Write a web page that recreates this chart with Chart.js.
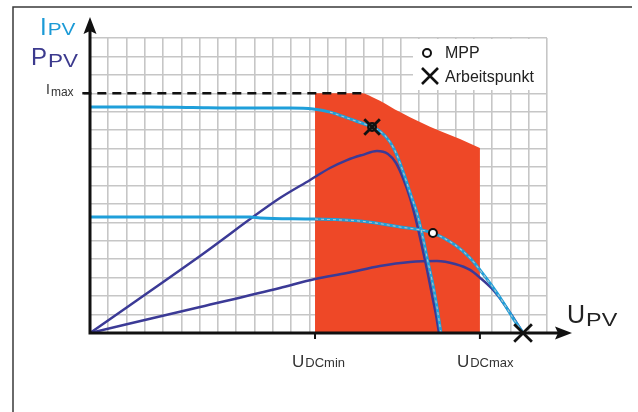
<!DOCTYPE html>
<html>
<head>
<meta charset="utf-8">
<script src="https://cdn.jsdelivr.net/npm/chart.js@4.4.0/dist/chart.umd.min.js"></script>
<style>
  html, body { margin: 0; padding: 0; background: #fff; }
  canvas { display: block; }
</style>
</head>
<body>
<canvas id="pv" width="638" height="412"></canvas>
<script>
// Axis units: one grid cell per unit (voltage on x, current / power on y)
const U_MAX = 25;
const Y_MAX = 16;
const I_MAX = 13;          // inverter current limit
const U_DC_MIN = 12.31;    // lower edge of the MPP tracking window
const U_DC_MAX = 21.33;    // upper edge of the MPP tracking window

// I-V curve, high irradiance
const ivHigh = [
  {x: 0, y: 12.26}, {x: 3.28, y: 12.26}, {x: 5.63, y: 12.23}, {x: 8.75, y: 12.2},
  {x: 10.94, y: 12.2}, {x: 12.2, y: 12.15}, {x: 13.13, y: 11.98}, {x: 14.22, y: 11.61},
  {x: 15.43, y: 11.17}, {x: 15.86, y: 10.95}, {x: 16.41, y: 10.36}, {x: 16.79, y: 9.65},
  {x: 17.23, y: 8.46}, {x: 17.61, y: 7.32}, {x: 17.89, y: 6.51}, {x: 18.22, y: 5.15},
  {x: 18.49, y: 3.85}, {x: 18.71, y: 2.87}, {x: 18.98, y: 1.41}, {x: 19.2, y: 0}
];
// P-V curve, high irradiance
const pvHigh = [
  {x: 0, y: 0}, {x: 6.02, y: 4.18}, {x: 10.39, y: 7.32}, {x: 12.04, y: 8.3},
  {x: 13.13, y: 8.95}, {x: 14.06, y: 9.38}, {x: 14.88, y: 9.65}, {x: 15.7, y: 9.87},
  {x: 16.3, y: 9.71}, {x: 16.74, y: 9.22}, {x: 17.12, y: 8.41}, {x: 17.51, y: 7.32},
  {x: 17.83, y: 6.13}, {x: 18.11, y: 4.93}, {x: 18.44, y: 3.42}, {x: 18.71, y: 2.06},
  {x: 18.93, y: 0.98}, {x: 19.09, y: 0}
];
// I-V curve, low irradiance
const ivLow = [
  {x: 0, y: 6.29}, {x: 8.75, y: 6.29}, {x: 9.3, y: 6.24}, {x: 12.31, y: 6.18},
  {x: 14.77, y: 6.07}, {x: 16.96, y: 5.75}, {x: 18.76, y: 5.42}, {x: 19.97, y: 4.77},
  {x: 20.79, y: 4.07}, {x: 21.33, y: 3.42}, {x: 21.99, y: 2.55}, {x: 22.59, y: 1.68},
  {x: 23.14, y: 0.81}, {x: 23.69, y: 0}
];
// P-V curve, low irradiance
const pvLow = [
  {x: 0, y: 0}, {x: 6.02, y: 1.41}, {x: 10.39, y: 2.44}, {x: 12.31, y: 2.93},
  {x: 14.06, y: 3.25}, {x: 15.86, y: 3.63}, {x: 17.51, y: 3.85}, {x: 18.98, y: 3.9},
  {x: 19.97, y: 3.74}, {x: 20.79, y: 3.42}, {x: 21.33, y: 3.0}, {x: 21.99, y: 2.4},
  {x: 22.59, y: 1.66}, {x: 23.14, y: 0.86}, {x: 23.69, y: 0}
];
// Upper boundary of the permitted operating window
const windowTop = [
  {x: 12.31, y: 13}, {x: 14.88, y: 13}, {x: 15.4, y: 12.82}, {x: 15.86, y: 12.6},
  {x: 16.96, y: 11.98}, {x: 18.05, y: 11.44}, {x: 19.15, y: 10.95}, {x: 20.24, y: 10.52},
  {x: 21.33, y: 10.03}
];
// Current limit line
const imaxLine = [{x: -0.42, y: I_MAX}, {x: 14.88, y: I_MAX}];
// Maximum power points and operating points
const mppPoints = [{x: 15.43, y: 11.17}, {x: 18.76, y: 5.42}];
const workPoints = [{x: 15.43, y: 11.17}, {x: 23.69, y: 0}];
// Voltage marks on the x axis
const xMarks = [
  {value: U_DC_MIN, main: 'U', sub: 'DCmin'},
  {value: U_DC_MAX, main: 'U', sub: 'DCmax'}
];

const FONT = '"Liberation Sans", Arial, sans-serif';
const LIGHT_BLUE = '#1f9fda';
const DARK_BLUE = '#3b3a96';

function subText(ctx, x, base, big, bigPx, small, smallPx, color, sx, dy) {
  ctx.save();
  ctx.fillStyle = color;
  ctx.textAlign = 'left';
  ctx.textBaseline = 'alphabetic';
  ctx.font = bigPx + 'px ' + FONT;
  ctx.fillText(big, x, base);
  const w = ctx.measureText(big).width;
  ctx.font = smallPx + 'px ' + FONT;
  ctx.translate(x + w + 1, base + (dy || 0));
  ctx.scale(sx || 1, 1);
  ctx.fillText(small, 0, 0);
  ctx.restore();
}

function drawAxes(chart) {
  const ctx = chart.ctx;
  const xs = chart.scales.x, ys = chart.scales.y;
  const x0 = xs.getPixelForValue(0), y0 = ys.getPixelForValue(0);
  ctx.save();
  ctx.strokeStyle = '#111';
  ctx.fillStyle = '#111';
  ctx.lineWidth = 3;
  ctx.beginPath();
  ctx.moveTo(x0, y0 + 1.5); ctx.lineTo(x0, 30);
  ctx.moveTo(x0 - 1.5, y0); ctx.lineTo(558, y0);
  ctx.stroke();
  // arrow heads
  ctx.beginPath();
  ctx.moveTo(x0, 17); ctx.lineTo(x0 + 6.5, 34); ctx.lineTo(x0, 31); ctx.lineTo(x0 - 6.5, 34);
  ctx.closePath(); ctx.fill();
  ctx.beginPath();
  ctx.moveTo(572, y0); ctx.lineTo(555, y0 - 6.5); ctx.lineTo(558, y0); ctx.lineTo(555, y0 + 6.5);
  ctx.closePath(); ctx.fill();
  // ticks
  ctx.lineWidth = 2;
  ctx.beginPath();
  xMarks.forEach(m => {
    const px = xs.getPixelForValue(m.value);
    ctx.moveTo(px, y0); ctx.lineTo(px, y0 + 6);
  });
  const iy = ys.getPixelForValue(I_MAX);
  ctx.moveTo(x0 - 6, iy); ctx.lineTo(x0, iy);
  ctx.stroke();
  ctx.restore();
}

const decorations = {
  id: 'decorations',
  beforeDraw(chart) {
    const ctx = chart.ctx;
    ctx.save();
    ctx.fillStyle = '#fff';
    ctx.fillRect(0, 0, chart.width, chart.height);
    ctx.strokeStyle = '#3a3a3a';
    ctx.lineWidth = 1.5;
    ctx.beginPath();
    ctx.moveTo(13, 412); ctx.lineTo(13, 7); ctx.lineTo(632, 7);
    ctx.stroke();
    ctx.restore();
  },
  beforeDatasetsDraw(chart) {
    // white panel behind the key
    const ctx = chart.ctx;
    ctx.save();
    ctx.fillStyle = '#fff';
    ctx.fillRect(413, 39, 133, 51);
    ctx.restore();
  },
  beforeDatasetDraw(chart, args) {
    if (chart.data.datasets[args.index].label === 'MPP') drawAxes(chart);
  },
  afterDatasetsDraw(chart) {
    const ctx = chart.ctx;
    const xs = chart.scales.x;
    // axis titles
    subText(ctx, 40, 35, 'I', 24, 'PV', 16, '#1b9ad6', 1.3, 0);
    subText(ctx, 31, 65, 'P', 24, 'PV', 18, '#3c3a8e', 1.25, 2);
    subText(ctx, 46, 94, 'I', 14, 'max', 12, '#333', 1, 2);
    subText(ctx, 567, 323, 'U', 25, 'PV', 18, '#222', 1.3, 3);
    xMarks.forEach(m => {
      const px = xs.getPixelForValue(m.value);
      subText(ctx, px - 23, 367, m.main, 17, m.sub, 13, '#333', 1, 0);
    });
    // key
    ctx.save();
    ctx.strokeStyle = '#111';
    ctx.fillStyle = '#fff';
    ctx.lineWidth = 2;
    ctx.beginPath(); ctx.arc(427, 53, 4, 0, Math.PI * 2); ctx.fill(); ctx.stroke();
    ctx.lineWidth = 2.6;
    ctx.beginPath();
    ctx.moveTo(422, 68); ctx.lineTo(438, 84);
    ctx.moveTo(438, 68); ctx.lineTo(422, 84);
    ctx.stroke();
    ctx.fillStyle = '#222';
    ctx.font = '16px ' + FONT;
    ctx.fillText('MPP', 445, 58);
    ctx.fillText('Arbeitspunkt', 445, 82);
    ctx.restore();
  }
};

const line = (label, data, color, width, order, extra) => Object.assign({
  label, data, showLine: true, borderColor: color, borderWidth: width,
  pointRadius: 0, cubicInterpolationMode: 'monotone', fill: false, order
}, extra || {});

new Chart(document.getElementById('pv'), {
  type: 'scatter',
  data: {
    datasets: [
      line('window', windowTop, '#ee4827', 0, 10, {fill: 'origin', backgroundColor: '#ee4827'}),
      line('Imax', imaxLine, '#111', 2.5, 9, {borderDash: [9, 6], clip: false, cubicInterpolationMode: 'default'}),
      line('P high', pvHigh, DARK_BLUE, 2.5, 7),
      line('P low', pvLow, DARK_BLUE, 2.5, 7),
      line('I high', ivHigh, LIGHT_BLUE, 3, 6),
      line('I low', ivLow, LIGHT_BLUE, 3, 6),
      line('I high window', ivHigh.filter(p => p.x >= U_DC_MIN), 'rgba(190,198,202,0.9)', 1.1, 5, {borderDash: [3, 3]}),
      line('I low window', ivLow.filter(p => p.x >= U_DC_MIN), 'rgba(190,198,202,0.9)', 1.1, 5, {borderDash: [3, 3]}),
      {label: 'MPP', data: mppPoints, pointStyle: 'circle', pointRadius: 4, borderWidth: 2,
       borderColor: '#111', backgroundColor: ['#5e7468', '#fff'], order: 2, clip: false},
      {label: 'Arbeitspunkt', data: workPoints, pointStyle: 'crossRot', pointRadius: [11, 12.5], borderWidth: 2.8,
       borderColor: '#111', backgroundColor: '#111', order: 1, clip: false}
    ]
  },
  options: {
    responsive: false,
    animation: false,
    events: [],
    layout: {padding: {left: 90, top: 38, right: 91, bottom: 79}},
    plugins: {legend: {display: false}, tooltip: {enabled: false}},
    scales: {
      x: {
        type: 'linear', min: 0, max: U_MAX,
        ticks: {display: false, stepSize: 1},
        grid: {color: '#c6c6c6', lineWidth: 1.6, drawTicks: false},
        border: {display: false},
        afterFit(s) { s.height = 0; }
      },
      y: {
        type: 'linear', min: 0, max: Y_MAX,
        ticks: {display: false, stepSize: 1},
        grid: {color: '#c6c6c6', lineWidth: 1.6, drawTicks: false},
        border: {display: false},
        afterFit(s) { s.width = 0; }
      }
    }
  },
  plugins: [decorations]
});
</script>
</body>
</html>
